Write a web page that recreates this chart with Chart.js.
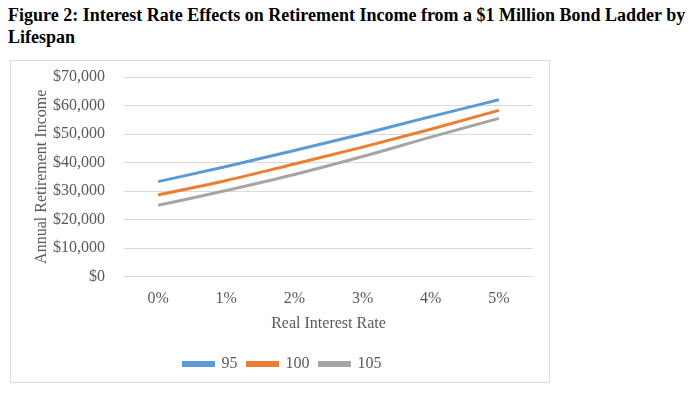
<!DOCTYPE html>
<html>
<head>
<meta charset="utf-8">
<script src="https://cdn.jsdelivr.net/npm/chart.js@4"></script>
<style>
  body { margin: 0; background: #fff; }
  #title {
    position: absolute; left: 8px; top: 4px;
    font-family: "Liberation Serif", serif; font-weight: bold; font-size: 18px;
    line-height: 22px; color: #000; white-space: nowrap;
  }
  #box {
    position: absolute; left: 10px; top: 60px; width: 538px; height: 321px;
    border: 1px solid #d9d9d9;
  }
</style>
</head>
<body>
<div id="title">Figure 2: Interest Rate Effects on Retirement Income from a $1 Million Bond Ladder by<br>Lifespan</div>
<div id="box"><canvas id="myChart" width="538" height="321"></canvas></div>
<script>
var rates = ['0%', '1%', '2%', '3%', '4%', '5%'];
var seriesNames = ['95', '100', '105'];
var life95 = [33300, 38600, 44200, 50000, 56100, 62000];
var life100 = [28600, 33700, 39500, 45400, 51700, 58300];
var life105 = [25000, 30200, 35800, 42100, 48900, 55500];
var colors = ['#5b9bd5', '#ed7d31', '#a5a5a5'];

var canvas = document.getElementById('myChart');
var ctx = canvas.getContext('2d');
var serif = '"Liberation Serif", "Times New Roman", serif';

function makeSet(i, values) {
    return {
        label: seriesNames[i],
        data: values,
        borderColor: colors[i],
        backgroundColor: colors[i],
        borderWidth: 3,
        pointRadius: 0,
        tension: 0.4,
        cubicInterpolationMode: 'monotone',
        fill: false
    };
}

var myChart = new Chart(ctx, {
    type: 'line',
    data: {
        labels: rates,
        datasets: [makeSet(0, life95), makeSet(1, life100), makeSet(2, life105)]
    },
    options: {
        responsive: false,
        animation: false,
        layout: { padding: { left: 21, right: 16, top: 16, bottom: 0 } },
        plugins: {
            legend: {
                position: 'bottom',
                labels: {
                    boxWidth: 30,
                    boxHeight: 3,
                    color: '#595959',
                    font: { family: serif, size: 16 },
                    padding: 10
                }
            },
            tooltip: { enabled: false }
        },
        scales: {
            x: {
                offset: true,
                grid: { display: false },
                border: { display: false },
                ticks: { color: '#595959', font: { family: serif, size: 16 }, padding: 5 },
                title: {
                    display: true,
                    text: 'Real Interest Rate',
                    color: '#595959',
                    font: { family: serif, size: 16 },
                    padding: { top: 0, bottom: 13 }
                }
            },
            y: {
                min: 0,
                max: 70000,
                afterFit: function (scale) { scale.width = 92; },
                grid: { color: '#d9d9d9', lineWidth: 1, drawTicks: true, tickLength: 17, tickColor: 'rgba(0,0,0,0)' },
                border: { display: false },
                ticks: {
                    stepSize: 10000,
                    color: '#595959',
                    font: { family: serif, size: 16 },
                    padding: 2,
                    callback: function (v) { return '$' + v.toLocaleString('en-US'); }
                },
                title: {
                    display: true,
                    text: 'Annual Retirement Income',
                    color: '#595959',
                    font: { family: serif, size: 16 },
                    padding: { top: 0, bottom: 0 }
                }
            }
        }
    }
});
</script>
</body>
</html>
